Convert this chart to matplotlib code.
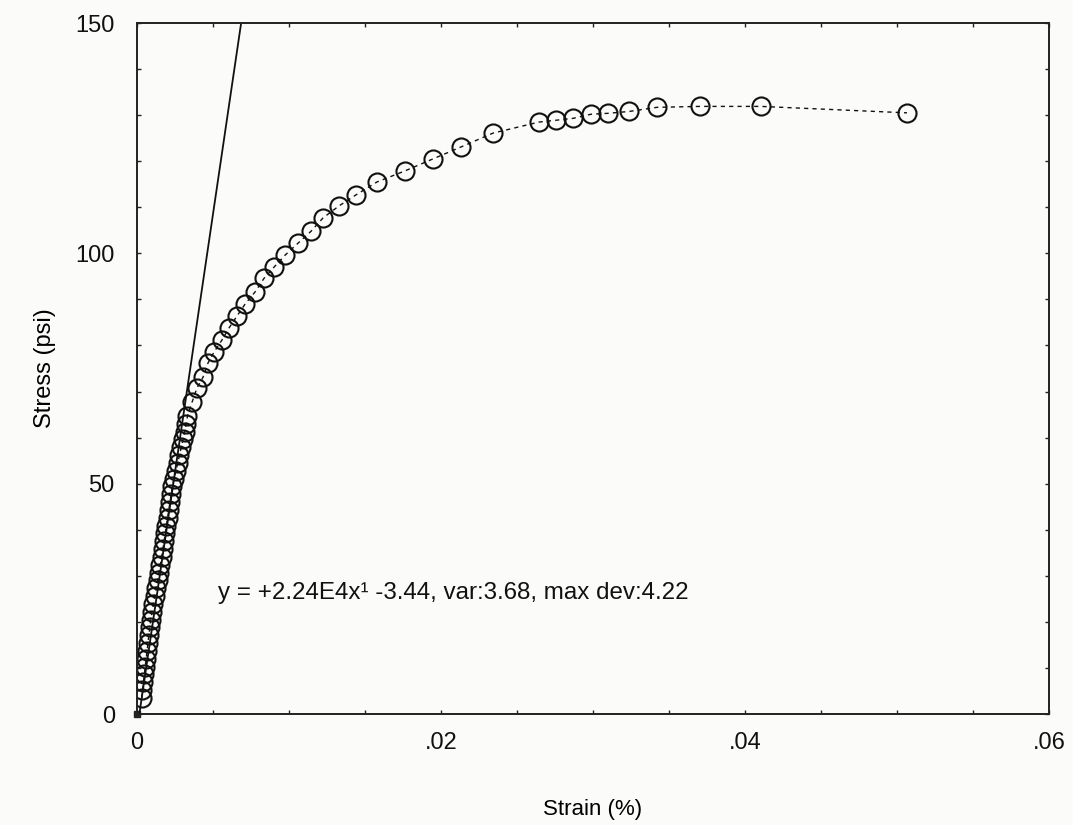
#!/usr/bin/env python3
# -*- coding: utf-8 -*-

import sys
import numpy as np
import matplotlib
matplotlib.use('Agg')
import matplotlib.pyplot as plt
from matplotlib.ticker import MultipleLocator


# strain (fraction) and stress (psi) from the compression test
strain = [
    0.00031, 0.00036, 0.00042, 0.00048, 0.00054, 0.00060, 0.00066, 0.00072,
    0.00078, 0.00084, 0.00090, 0.00099, 0.00108, 0.00117, 0.00126, 0.00135,
    0.00144, 0.00153, 0.00162, 0.00170, 0.00178, 0.00186, 0.00193, 0.00201,
    0.00209, 0.00217, 0.00225, 0.00232, 0.00244, 0.00256, 0.00268, 0.00279,
    0.00291, 0.00302, 0.00314, 0.00323, 0.00332,
    0.00362, 0.00395, 0.00434, 0.00467, 0.00507, 0.00559, 0.00605, 0.00658,
    0.00711, 0.00776, 0.00836, 0.00901, 0.00974, 0.01059, 0.01145, 0.01224,
    0.01329, 0.01441, 0.01579, 0.01763, 0.01947, 0.02132, 0.02342, 0.02645,
    0.02757, 0.02868, 0.02987, 0.03099, 0.03237, 0.03421, 0.03704, 0.04105,
    0.05066,
]
stress = [
    3.5, 5.2, 6.9, 8.6, 10.3, 12.0, 13.7, 15.4,
    17.1, 18.8, 20.5, 22.2, 23.9, 25.6, 27.3, 29.0,
    30.7, 32.4, 34.1, 35.8, 37.5, 39.2, 40.9, 42.6,
    44.3, 46.0, 47.7, 49.4, 51.1, 52.8, 54.5, 56.2,
    57.9, 59.6, 61.3, 63.0, 64.7,
    67.7, 70.8, 73.1, 76.2, 78.6, 81.2, 83.8, 86.4,
    89.0, 91.6, 94.6, 97.0, 99.6, 102.2, 104.8, 107.7,
    110.3, 112.7, 115.5, 117.9, 120.5, 123.1, 126.1, 128.5,
    128.9, 129.3, 130.2, 130.4, 130.8, 131.7, 131.9, 131.9,
    130.5,
]

# linear fit over the elastic region
fit_slope = 2.24e4
fit_intercept = -3.44
fit_var = 3.68
fit_max_dev = 4.22

x_ticks = [0, 0.02, 0.04, 0.06]
x_tick_labels = ['0', '.02', '.04', '.06']
y_ticks = [0, 50, 100, 150]

FONT = ['Liberation Sans', 'DejaVu Sans']


def run():
    plt.rcParams['font.family'] = FONT
    bg = '#fbfbf9'
    f = plt.figure(figsize=(10.73, 8.25), dpi=100, facecolor=bg)
    ax = f.add_axes([0.1277, 0.1345, 0.8499, 0.8376], facecolor=bg)

    ax.plot(strain, stress, linestyle=(0, (3, 3)), color='#111111', linewidth=1.0,
            marker='o', markersize=13, markerfacecolor='none',
            markeredgecolor='#111111', markeredgewidth=1.5)
    ax.plot([0], [0], marker='s', markersize=4, color='#222222', clip_on=False)

    x_fit = np.array([-fit_intercept / fit_slope, (160 - fit_intercept) / fit_slope])
    ax.plot(x_fit, fit_slope * x_fit + fit_intercept, color='#111111', linewidth=1.3)

    label = (f'y = +{fit_slope / 1e4:.2f}E4x\u00b9 {fit_intercept:.2f}, '
             f'var:{fit_var:.2f}, max dev:{fit_max_dev:.2f}')
    ax.text(0.00533, 26.3, label, fontsize=17.4, va='center', ha='left', color='#111111')

    ax.set_xlim(0, 0.06)
    ax.set_ylim(0, 150)
    ax.set_xticks(x_ticks)
    ax.set_xticklabels(x_tick_labels)
    ax.set_yticks(y_ticks)
    ax.xaxis.set_minor_locator(MultipleLocator(0.005))
    ax.yaxis.set_minor_locator(MultipleLocator(10))
    ax.tick_params(which='both', direction='in', top=True, right=True,
                   length=3, width=1, colors='#222222', labelcolor='#111111')
    ax.tick_params(axis='x', which='major', labelsize=17, pad=13)
    ax.tick_params(axis='y', which='major', labelsize=17, pad=16)
    for s in ax.spines.values():
        s.set_linewidth(1.4)
        s.set_color('#222222')

    ax.set_xlabel('Strain (%)', fontsize=16, labelpad=32)
    ax.set_ylabel('Stress (psi)', fontsize=17, labelpad=14)

    f.savefig('out.png', dpi=100, facecolor=bg)


if __name__ == '__main__':
    sys.exit(run())
